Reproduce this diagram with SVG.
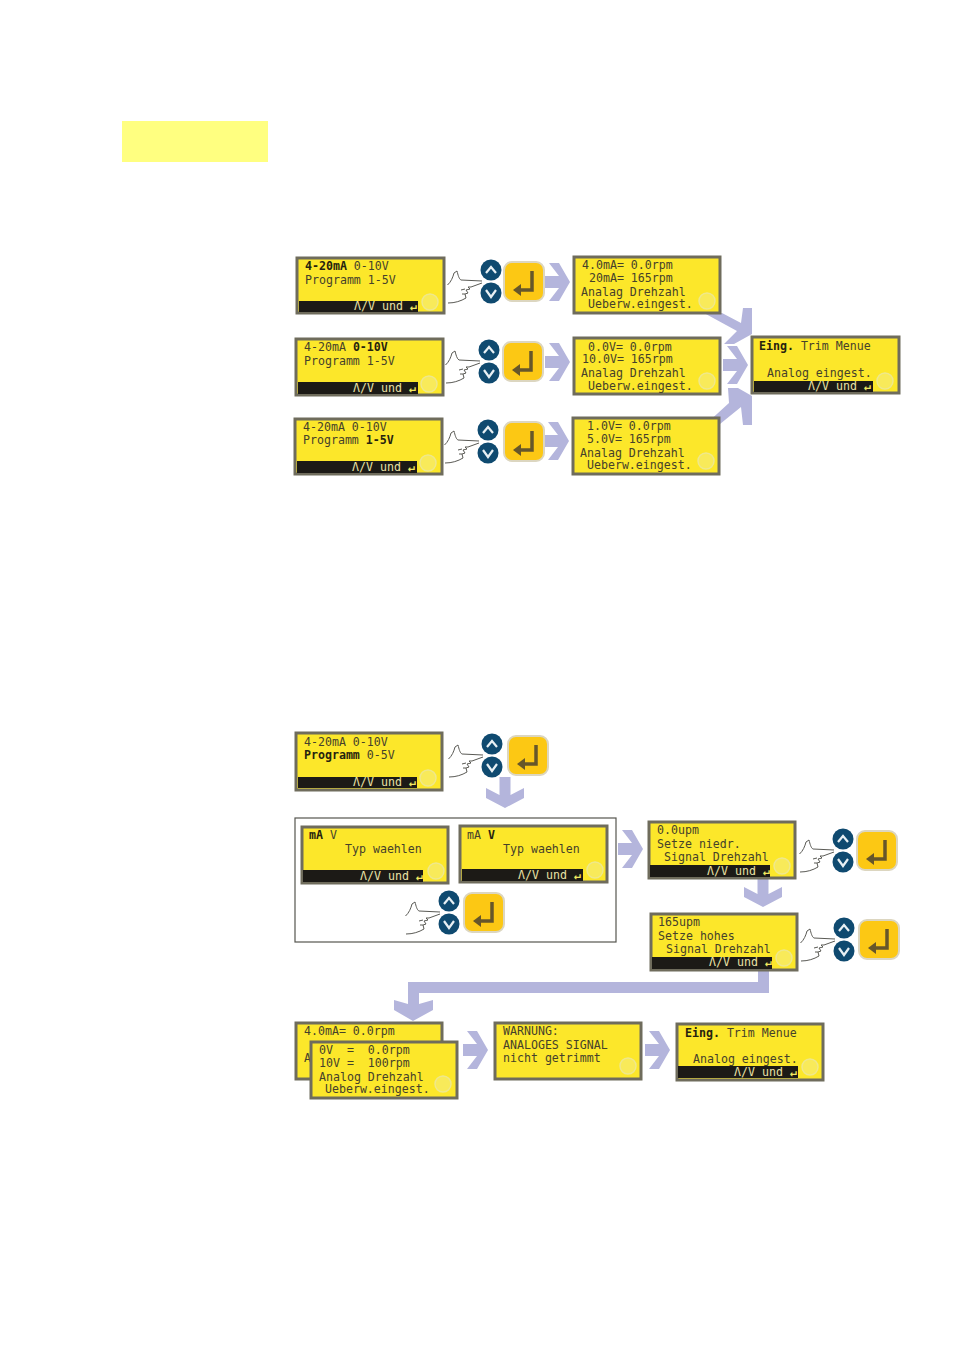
<svg xmlns="http://www.w3.org/2000/svg" width="954" height="1350" viewBox="0 0 954 1350">
<style>
.lcd{fill:#fce72a;stroke:#6f6c5c;stroke-width:3}
.bar{fill:#1c1a16}
.dot{fill:#f8ea5a;stroke:#efe88c;stroke-width:1.5}
text{font-family:"DejaVu Sans Mono","Liberation Mono",monospace;font-size:11.6px;fill:#45412a;white-space:pre}
.b{font-weight:bold;fill:#26230f}
.bt{fill:#e9e2a6}
.btg{font-weight:bold;fill:#f2e860}
.arr{fill:#b4b5dc}
.frame{fill:#fff;stroke:#55554f;stroke-width:1.2}
.hand{fill:none;stroke:#5a5a55;stroke-width:1}
.key{fill:#0f4a70}
.chev{fill:none;stroke:#e8f0f4;stroke-width:2.2}
.ent{fill:#fcc814;stroke:#dcd6c0;stroke-width:2}
.entg{fill:none;stroke:#66562a;stroke-width:3.5}
</style>
<defs>
<g id="keys">
<path class="hand" d="M-43.5,15C-40,12-38,7-37,3L-34,1C-33,5-32,9-30,10L-9,11M-9,13L-20,17-23,17-21,19-25,20-23,23-26,24-25,28C-30,31-36,33-43,33M-26,19L-30,20M-26,24L-29,24"/>
<circle class="key" cx="0" cy="0" r="10.5"/>
<circle class="key" cx="0" cy="23" r="10.5"/>
<path class="chev" d="M-5,3L0,-3 5,3"/>
<path class="chev" d="M-5,20L0,27 5,20"/>
</g>
<g id="enter">
<rect class="ent" x="0" y="0" width="40" height="39" rx="8"/>
<path class="entg" d="M28,9V28H15"/>
<path d="M9,28L17,22V34Z" fill="#66562a"/>
</g>
<path id="arrow-r" d="M-25,-6H-11L-21,-19H-11L0,0-11,19H-21L-11,6H-25Z"/>
<path id="arrow-d" d="M-5.5,-22H5.5V-4L19,-11V-1L0,9-19,-1V-11L-5.5,-4Z"/>
</defs>

<rect id="highlight" x="122" y="121" width="146" height="41" fill="#ffff80"/>

<g id="connectors">
<use class="arr" href="#arrow-r" x="570" y="282"/>
<use class="arr" href="#arrow-r" x="570" y="362"/>
<use class="arr" href="#arrow-r" x="569" y="441"/>
<path class="arr" d="M752,308V334L734,344H724L737,331 704,313H722L741,323 743,308Z"/>
<use class="arr" href="#arrow-r" x="748" y="365"/>
<path class="arr" d="M728,388H738L752,396V425H743L741,407 720,424H706L729,403Z"/>
<use class="arr" href="#arrow-d" x="505" y="799"/>
<use class="arr" href="#arrow-r" x="643" y="849"/>
<use class="arr" href="#arrow-d" x="763" y="898"/>
<path class="arr" d="M758,968H769V993H419V1004L433,1000V1010L413,1021 394,1010V1000L408,1004V982H758Z"/>
<use class="arr" href="#arrow-r" x="488" y="1050"/>
<use class="arr" href="#arrow-r" x="670" y="1050"/>
</g>

<g id="node-prog-ma">
<rect class="lcd" x="297" y="258" width="147" height="55"/><rect class="bar" x="299" y="301" width="119" height="11"/><circle class="dot" cx="430" cy="302" r="8"/>
<text x="305" y="270"><tspan class="b">4-20mA</tspan> 0-10V</text><text x="305" y="284">Programm 1-5V</text>
<text class="bt" x="354" y="310">Λ/V und <tspan class="btg">↵</tspan></text>
</g>
<use id="keys-1" href="#keys" x="491" y="270"/><use id="enter-1" href="#enter" x="504" y="262"/>

<g id="node-prog-10v">
<rect class="lcd" x="296" y="339" width="147" height="56"/><rect class="bar" x="298" y="382" width="120" height="12"/><circle class="dot" cx="429" cy="384" r="8"/>
<text x="304" y="351">4-20mA <tspan class="b">0-10V</tspan></text><text x="304" y="365">Programm 1-5V</text>
<text class="bt" x="353" y="392">Λ/V und <tspan class="btg">↵</tspan></text>
</g>
<use id="keys-2" href="#keys" x="489" y="350"/><use id="enter-2" href="#enter" x="503" y="342"/>

<g id="node-prog-5v">
<rect class="lcd" x="295" y="419" width="147" height="55"/><rect class="bar" x="297" y="461" width="120" height="12"/><circle class="dot" cx="428" cy="463" r="8"/>
<text x="303" y="431">4-20mA 0-10V</text><text x="303" y="444">Programm <tspan class="b">1-5V</tspan></text>
<text class="bt" x="352" y="471">Λ/V und <tspan class="btg">↵</tspan></text>
</g>
<use id="keys-3" href="#keys" x="488" y="430"/><use id="enter-3" href="#enter" x="504" y="422"/>

<g id="node-res-ma">
<rect class="lcd" x="574" y="257" width="146" height="56"/><circle class="dot" cx="707" cy="301" r="8"/>
<text x="582" y="269">4.0mA= 0.0rpm</text><text x="582" y="282"> 20mA= 165rpm</text><text x="581" y="296">Analag Drehzahl</text><text x="581" y="308"> Ueberw.eingest.</text>
</g>
<g id="node-res-10v">
<rect class="lcd" x="574" y="338" width="146" height="56"/><circle class="dot" cx="707" cy="381" r="8"/>
<text x="581" y="351"> 0.0V= 0.0rpm</text><text x="582" y="363">10.0V= 165rpm</text><text x="581" y="377">Analag Drehzahl</text><text x="581" y="390"> Ueberw.eingest.</text>
</g>
<g id="node-res-5v">
<rect class="lcd" x="573" y="418" width="146" height="56"/><circle class="dot" cx="706" cy="461" r="8"/>
<text x="580" y="430"> 1.0V= 0.0rpm</text><text x="580" y="443"> 5.0V= 165rpm</text><text x="580" y="457">Analag Drehzahl</text><text x="580" y="469"> Ueberw.eingest.</text>
</g>
<g id="node-trim-1">
<rect class="lcd" x="752" y="337" width="147" height="56"/><rect class="bar" x="754" y="381" width="119" height="11"/><circle class="dot" cx="885" cy="381" r="8"/>
<text x="759" y="350"><tspan class="b">Eing.</tspan> Trim Menue</text><text x="767" y="377">Analog eingest.</text>
<text class="bt" x="808" y="390">Λ/V und <tspan class="btg">↵</tspan></text>
</g>

<g id="node-prog-05v">
<rect class="lcd" x="296" y="733" width="146" height="57"/><rect class="bar" x="298" y="777" width="119" height="11"/><circle class="dot" cx="428" cy="778" r="8"/>
<text x="304" y="746">4-20mA 0-10V</text><text x="304" y="759"><tspan class="b">Programm</tspan> 0-5V</text>
<text class="bt" x="353" y="786">Λ/V und <tspan class="btg">↵</tspan></text>
</g>
<use id="keys-4" href="#keys" x="492" y="744"/><use id="enter-4" href="#enter" x="508" y="736"/>

<g id="node-type-box">
<rect class="frame" x="295" y="818" width="321" height="124"/>
<rect class="lcd" x="302" y="827" width="146" height="56"/><rect class="bar" x="303" y="870" width="120" height="12"/><circle class="dot" cx="436" cy="871" r="8"/>
<text x="309" y="839"><tspan class="b">mA</tspan> V</text><text x="345" y="853">Typ waehlen</text>
<text class="bt" x="360" y="880">Λ/V und <tspan class="btg">↵</tspan></text>
<rect class="lcd" x="460" y="826" width="147" height="56"/><rect class="bar" x="462" y="869" width="121" height="12"/><circle class="dot" cx="595" cy="870" r="8"/>
<text x="467" y="839">mA <tspan class="b">V</tspan></text><text x="503" y="853">Typ waehlen</text>
<text class="bt" x="518" y="879">Λ/V und <tspan class="btg">↵</tspan></text>
<use href="#keys" x="449" y="901"/><use href="#enter" x="464" y="893"/>
</g>

<g id="node-low">
<rect class="lcd" x="649" y="822" width="146" height="56"/><rect class="bar" x="650" y="865" width="120" height="12"/><circle class="dot" cx="782" cy="866" r="8"/>
<text x="657" y="834">0.0upm</text><text x="657" y="848">Setze niedr.</text><text x="664" y="861">Signal Drehzahl</text>
<text class="bt" x="707" y="875">Λ/V und <tspan class="btg">↵</tspan></text>
</g>
<use id="keys-6" href="#keys" x="843" y="839"/><use id="enter-6" href="#enter" x="857" y="831"/>

<g id="node-high">
<rect class="lcd" x="651" y="914" width="146" height="56"/><rect class="bar" x="652" y="957" width="120" height="12"/><circle class="dot" cx="784" cy="958" r="8"/>
<text x="658" y="926">165upm</text><text x="658" y="940">Setze hohes</text><text x="666" y="953">Signal Drehzahl</text>
<text class="bt" x="709" y="966">Λ/V und <tspan class="btg">↵</tspan></text>
</g>
<use id="keys-7" href="#keys" x="844" y="928"/><use id="enter-7" href="#enter" x="859" y="920"/>

<g id="node-res-back">
<rect class="lcd" x="296" y="1023" width="146" height="56"/>
<text x="304" y="1035">4.0mA= 0.0rpm</text><text x="304" y="1062">A</text>
</g>
<g id="node-res-front">
<rect class="lcd" x="311" y="1042" width="146" height="56"/><circle class="dot" cx="443" cy="1084" r="8"/>
<text x="319" y="1054">0V  =  0.0rpm</text><text x="319" y="1067">10V =  100rpm</text><text x="319" y="1081">Analog Drehzahl</text><text x="318" y="1093"> Ueberw.eingest.</text>
</g>
<g id="node-warn">
<rect class="lcd" x="495" y="1023" width="146" height="56"/><circle class="dot" cx="628" cy="1066" r="8"/>
<text x="503" y="1035">WARNUNG:</text><text x="503" y="1049">ANALOGES SIGNAL</text><text x="503" y="1062">nicht getrimmt</text>
</g>
<g id="node-trim-2">
<rect class="lcd" x="677" y="1024" width="146" height="56"/><rect class="bar" x="678" y="1066" width="120" height="12"/><circle class="dot" cx="810" cy="1067" r="8"/>
<text x="685" y="1037"><tspan class="b">Eing.</tspan> Trim Menue</text><text x="693" y="1063">Analog eingest.</text>
<text class="bt" x="734" y="1076">Λ/V und <tspan class="btg">↵</tspan></text>
</g>
</svg>
